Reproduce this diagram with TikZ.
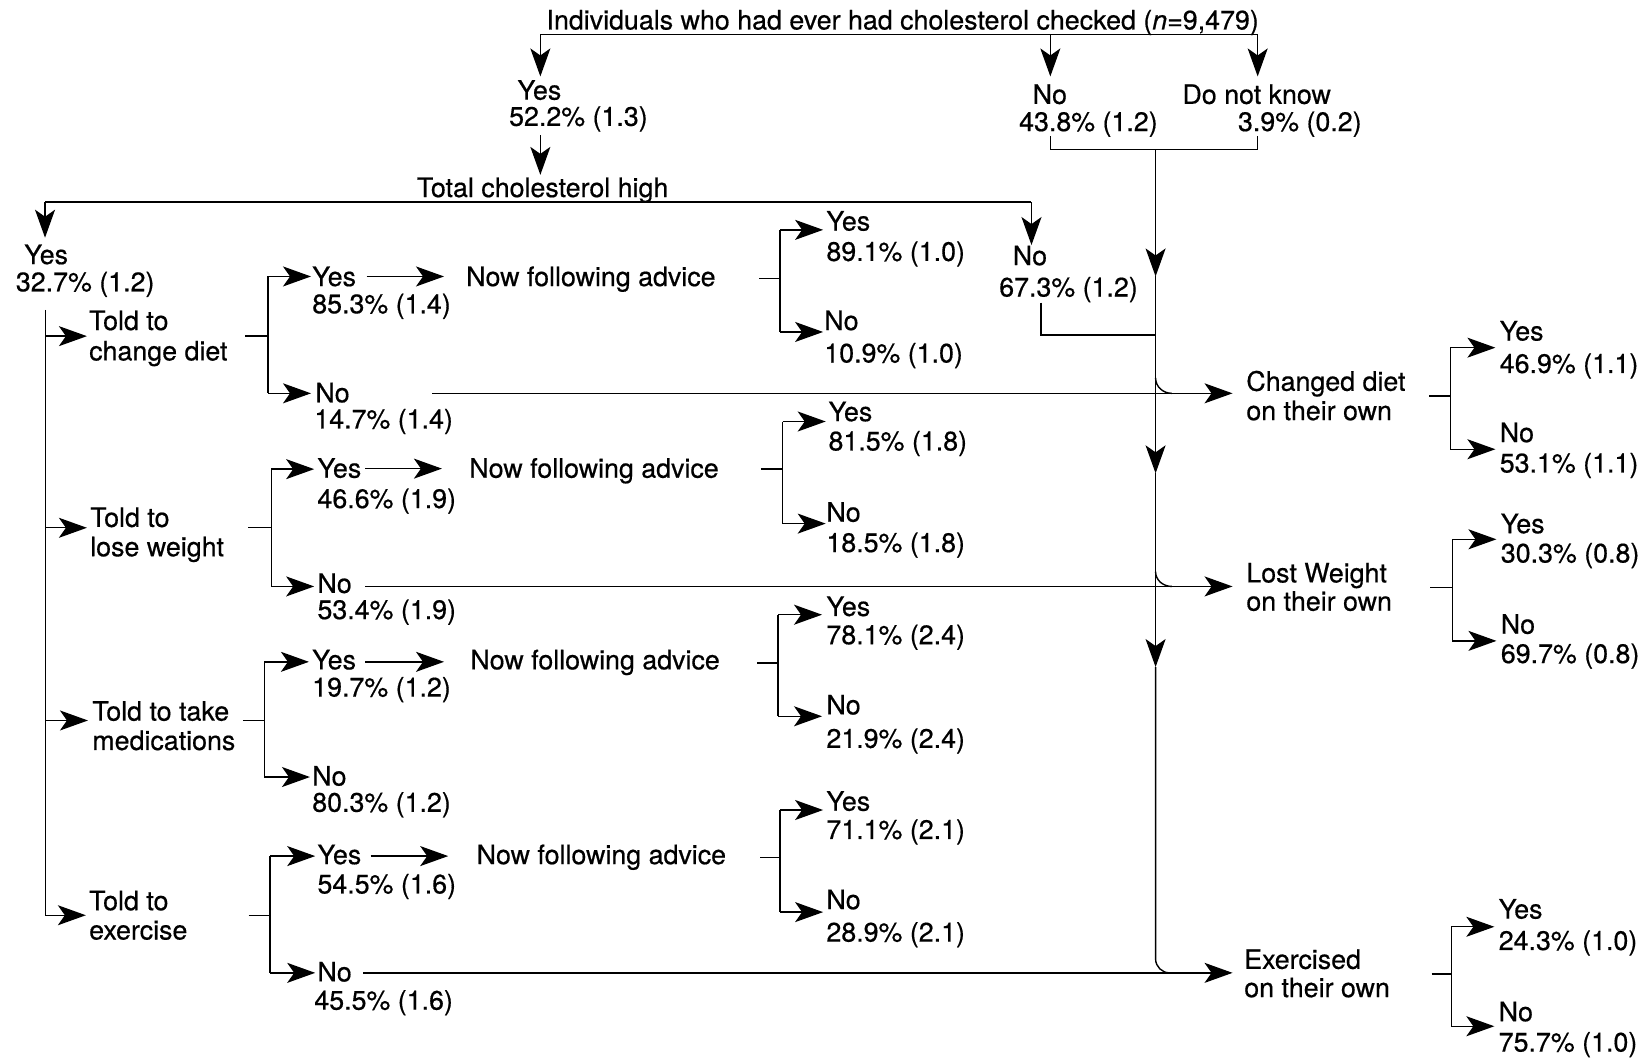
\documentclass[tikz,border=0pt]{standalone}
\usepackage{fontspec}
\setmainfont{TeX Gyre Heros}[FakeBold=0.5]
\usetikzlibrary{arrows.meta}
\newcommand\fsz{\fontsize{26.8}{29}\selectfont}
\begin{document}
\begin{tikzpicture}[x=1.0472pt,y=-1.0472pt,
  lbl/.style={font=\fsz, inner sep=0pt, text height=19.2pt, text depth=0pt, anchor=west},
  ln/.style={line width=1.4pt},
  arr/.style={ln, -{Stealth[length=28pt,width=20pt,inset=7pt]}}]
\useasboundingbox (0,0) rectangle (1568,1011);
\fill[white] (0,0) rectangle (1568,1011);

% ---------- text ----------
\node[lbl,anchor=center] (title) at (862,19) {Individuals who had ever had cholesterol checked ({\itshape n}=9,479)};
\node[lbl] (yes1) at (494,86) {Yes};
\node[lbl] (yes1p) at (486,111) {52.2\% (1.3)};
\node[lbl] (no1) at (986,90) {No};
\node[lbl] (no1p) at (973,116) {43.8\% (1.2)};
\node[lbl] (dnk) at (1129,90) {Do not know};
\node[lbl] (dnkp) at (1182,116) {3.9\% (0.2)};
\node[lbl] (tch) at (398,179) {Total cholesterol high};
\node[lbl] (yes2) at (23,243) {Yes};
\node[lbl] (yes2p) at (15,269) {32.7\% (1.2)};
\node[lbl] (no2) at (967,244) {No};
\node[lbl] (no2p) at (954,274) {67.3\% (1.2)};

\node[lbl] (t1a) at (85,306) {Told to};
\node[lbl] (t1b) at (85,335) {change diet};
\node[lbl] (t2a) at (86,494) {Told to};
\node[lbl] (t2b) at (86,522) {lose weight};
\node[lbl] (t3a) at (88,679) {Told to take};
\node[lbl] (t3b) at (88,707) {medications};
\node[lbl] (t4a) at (85,860) {Told to};
\node[lbl] (t4b) at (85,888) {exercise};

\node[lbl] (ya1) at (298,264) {Yes};
\node[lbl] (ya1p) at (298,290) {85.3\% (1.4)};
\node[lbl] (na1) at (301,375) {No};
\node[lbl] (na1p) at (300,400) {14.7\% (1.4)};
\node[lbl] (yb1) at (303,447) {Yes};
\node[lbl] (yb1p) at (303,476) {46.6\% (1.9)};
\node[lbl] (nb1) at (303,557) {No};
\node[lbl] (nb1p) at (303,582) {53.4\% (1.9)};
\node[lbl] (yc1) at (298,630) {Yes};
\node[lbl] (yc1p) at (298,656) {19.7\% (1.2)};
\node[lbl] (nc1) at (298,741) {No};
\node[lbl] (nc1p) at (298,766) {80.3\% (1.2)};
\node[lbl] (yd1) at (303,816) {Yes};
\node[lbl] (yd1p) at (303,844) {54.5\% (1.6)};
\node[lbl] (nd1) at (303,928) {No};
\node[lbl] (nd1p) at (300,955) {45.5\% (1.6)};

\node[lbl] (nf1) at (445,264) {Now following advice};
\node[lbl] (nf2) at (448,447) {Now following advice};
\node[lbl] (nf3) at (449,630) {Now following advice};
\node[lbl] (nf4) at (455,816) {Now following advice};

\node[lbl] (yA) at (789,211) {Yes};
\node[lbl] (yAp) at (789,240) {89.1\% (1.0)};
\node[lbl] (nA) at (787,306) {No};
\node[lbl] (nAp) at (787,337) {10.9\% (1.0)};
\node[lbl] (yB) at (791,393) {Yes};
\node[lbl] (yBp) at (791,421) {81.5\% (1.8)};
\node[lbl] (nB) at (789,489) {No};
\node[lbl] (nBp) at (789,518) {18.5\% (1.8)};
\node[lbl] (yC) at (789,579) {Yes};
\node[lbl] (yCp) at (789,606) {78.1\% (2.4)};
\node[lbl] (nC) at (789,673) {No};
\node[lbl] (nCp) at (789,705) {21.9\% (2.4)};
\node[lbl] (yD) at (789,765) {Yes};
\node[lbl] (yDp) at (789,792) {71.1\% (2.1)};
\node[lbl] (nD) at (789,859) {No};
\node[lbl] (nDp) at (789,890) {28.9\% (2.1)};

\node[lbl] (cd1) at (1190,364) {Changed diet};
\node[lbl] (cd2) at (1190,392) {on their own};
\node[lbl] (yE) at (1432,316) {Yes};
\node[lbl] (yEp) at (1432,347) {46.9\% (1.1)};
\node[lbl] (nE) at (1432,413) {No};
\node[lbl] (nEp) at (1432,442) {53.1\% (1.1)};
\node[lbl] (lw1) at (1190,547) {Lost Weight};
\node[lbl] (lw2) at (1190,574) {on their own};
\node[lbl] (yF) at (1433,500) {Yes};
\node[lbl] (yFp) at (1433,528) {30.3\% (0.8)};
\node[lbl] (nF) at (1433,596) {No};
\node[lbl] (nFp) at (1433,624) {69.7\% (0.8)};
\node[lbl] (ex1) at (1188,916) {Exercised};
\node[lbl] (ex2) at (1188,943) {on their own};
\node[lbl] (yG) at (1431,868) {Yes};
\node[lbl] (yGp) at (1431,898) {24.3\% (1.0)};
\node[lbl] (nG) at (1431,966) {No};
\node[lbl] (nGp) at (1431,995) {75.7\% (1.0)};

% ---------- coordinates ----------
\coordinate (J0l) at (516,33);  \coordinate (J0m) at (1003,33); \coordinate (J0r) at (1201,33);
\coordinate (T0l) at (516,73);  \coordinate (T0m) at (1003,73); \coordinate (T0r) at (1201,73);
\coordinate (B0l) at (1003,130); \coordinate (B0lc) at (1003,143);
\coordinate (B0rc) at (1201,143); \coordinate (B0r) at (1201,130);
\coordinate (Y1s) at (516,129); \coordinate (Y1t) at (516,167);
\coordinate (J1l) at (43,193); \coordinate (J1r) at (985,193);
\coordinate (T1l) at (43,227); \coordinate (T1r) at (985,234);
\coordinate (N2a) at (994,289); \coordinate (N2b) at (994,320); \coordinate (N2c) at (1103.5,320);

\coordinate (S0) at (43.5,296);
\coordinate (S1) at (43.5,321); \coordinate (S1t) at (83,321);
\coordinate (S2) at (43.5,504); \coordinate (S2t) at (83,504);
\coordinate (S3) at (43.5,688); \coordinate (S3t) at (84,688);
\coordinate (S4) at (43.5,874); \coordinate (S4t) at (82,874);

% told brackets
\coordinate (B1s) at (234,321); \coordinate (B1m) at (256,321);
\coordinate (B1y) at (256,264); \coordinate (B1n) at (256,375.6);
\coordinate (B1yt) at (297,264); \coordinate (B1nt) at (297,375.6);
\coordinate (B2s) at (237,504); \coordinate (B2m) at (259,504);
\coordinate (B2y) at (259,448); \coordinate (B2n) at (259,560);
\coordinate (B2yt) at (300,448); \coordinate (B2nt) at (300,560);
\coordinate (B3s) at (232,688); \coordinate (B3m) at (252.5,688);
\coordinate (B3y) at (252.5,632); \coordinate (B3n) at (252.5,742);
\coordinate (B3yt) at (295,632); \coordinate (B3nt) at (296,742);
\coordinate (B4s) at (237.5,874); \coordinate (B4m) at (258,874);
\coordinate (B4y) at (258,817.5); \coordinate (B4n) at (258,929);
\coordinate (B4yt) at (301,817.5); \coordinate (B4nt) at (301,929);

% yes -> now following
\coordinate (A1s) at (350,264); \coordinate (A1t) at (424,264);
\coordinate (A2s) at (349,447.5); \coordinate (A2t) at (422,447.5);
\coordinate (A3s) at (349,632); \coordinate (A3t) at (424,632);
\coordinate (A4s) at (354,817.5); \coordinate (A4t) at (428,817.5);

% advice brackets
\coordinate (C1s) at (725,266); \coordinate (C1m) at (745,266);
\coordinate (C1y) at (745,219.5); \coordinate (C1n) at (745,317);
\coordinate (C1yt) at (786,219.5); \coordinate (C1nt) at (786,317);
\coordinate (C2s) at (726.5,448); \coordinate (C2m) at (747.5,448);
\coordinate (C2y) at (747.5,402.5); \coordinate (C2n) at (747.5,500);
\coordinate (C2yt) at (788.5,402.5); \coordinate (C2nt) at (788.5,500);
\coordinate (C3s) at (723,633); \coordinate (C3m) at (743,633);
\coordinate (C3y) at (743,587); \coordinate (C3n) at (743,684);
\coordinate (C3yt) at (785,587); \coordinate (C3nt) at (785,684);
\coordinate (C4s) at (726,819); \coordinate (C4m) at (745,819);
\coordinate (C4y) at (745,773.5); \coordinate (C4n) at (745,871);
\coordinate (C4yt) at (786,773.5); \coordinate (C4nt) at (786,871);

% long lines
\coordinate (H1s) at (413,375.6); \coordinate (H1t) at (1177,375.6);
\coordinate (H2s) at (349,560); \coordinate (H2t) at (1177,560);
\coordinate (H3s) at (347,929); \coordinate (H3t) at (1177,929);

% main vertical
\coordinate (V0) at (1103.5,143);
\coordinate (V1) at (1103.5,264);
\coordinate (V2) at (1103.5,452);
\coordinate (V3) at (1103.5,637);
\coordinate (Vb) at (1103.5,929);
\coordinate (Vbe) at (1130,929);
\coordinate (M1a) at (1103.5,361); \coordinate (M1b) at (1119,375.6);
\coordinate (M2a) at (1103.5,546); \coordinate (M2b) at (1119,560);

% right brackets
\coordinate (R1s) at (1365,378); \coordinate (R1m) at (1385,378);
\coordinate (R1y) at (1385,332); \coordinate (R1n) at (1385,429);
\coordinate (R1yt) at (1428,332); \coordinate (R1nt) at (1428,429);
\coordinate (R2s) at (1366,561); \coordinate (R2m) at (1387,561);
\coordinate (R2y) at (1387,515); \coordinate (R2n) at (1387,612);
\coordinate (R2yt) at (1429,515); \coordinate (R2nt) at (1429,612);
\coordinate (R3s) at (1367,930); \coordinate (R3m) at (1386,930);
\coordinate (R3y) at (1386,885); \coordinate (R3n) at (1386,980);
\coordinate (R3yt) at (1427,885); \coordinate (R3nt) at (1427,980);

% ---------- connectors ----------
\draw[ln] (J0l) -- (J0r);
\draw[arr] (J0l) -- (T0l);
\draw[arr] (J0m) -- (T0m);
\draw[arr] (J0r) -- (T0r);
\draw[ln] (B0l) -- (B0lc) -- (B0rc) -- (B0r);
\draw[arr] (Y1s) -- (Y1t);
\draw[ln] (J1l) -- (J1r);
\draw[arr] (J1l) -- (T1l);
\draw[arr] (J1r) -- (T1r);
\draw[ln] (N2a) -- (N2b) -- (N2c);

\draw[arr] (S0) -- (S4) -- (S4t);
\draw[arr] (S1) -- (S1t);
\draw[arr] (S2) -- (S2t);
\draw[arr] (S3) -- (S3t);

\foreach \b in {B1,B2,B3,B4,C1,C2,C3,C4,R1,R2,R3}{
  \draw[ln] (\b s) -- (\b m);
  \draw[ln] (\b y) -- (\b n);
  \draw[arr] (\b y) -- (\b yt);
  \draw[arr] (\b n) -- (\b nt);
}
\draw[arr] (A1s) -- (A1t);
\draw[arr] (A2s) -- (A2t);
\draw[arr] (A3s) -- (A3t);
\draw[arr] (A4s) -- (A4t);

\draw[arr] (H1s) -- (H1t);
\draw[arr] (H2s) -- (H2t);
\draw[arr] (H3s) -- (H3t);

\draw[arr] (V0) -- (V1);
\draw[arr] (V1) -- (V2);
\draw[arr] (V2) -- (V3);
\draw[ln, rounded corners=14pt] (V3) -- (Vb) -- (Vbe);
\draw[ln] (M1a) to[out=-90,in=180] (M1b);
\draw[ln] (M2a) to[out=-90,in=180] (M2b);
\end{tikzpicture}
\end{document}
